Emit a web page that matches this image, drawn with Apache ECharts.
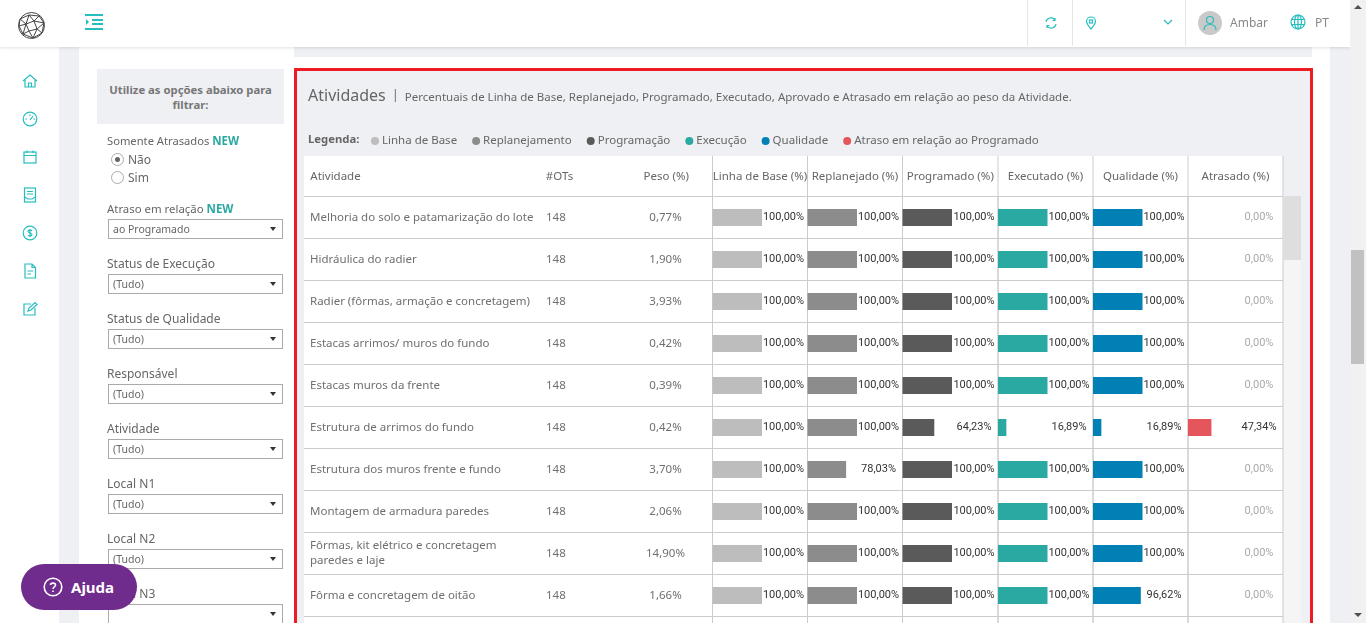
<!DOCTYPE HTML>
<html>
<head>
<meta charset="UTF-8">
<title>Atividades</title>
<script src="https://cdn.jsdelivr.net/npm/echarts@6/dist/echarts.min.js"></script>
<style>
    html,body{ margin:0; padding:0; width:1366px; height:623px; overflow:hidden; background:#fff;
        font-family:"Noto Sans",sans-serif; font-size:12px; color:#666; }
    .box{ position:absolute; }
    .lbl{ position:absolute; left:107px; white-space:nowrap; line-height:14px; color:#666; }
    .lbl b{ color:#2aa9a2; font-size:11.5px; }
    .sel{ position:absolute; left:108px; width:173px; height:18px; border:1px solid #aaa; background:#fff;
        line-height:18px; text-indent:4px; font-size:10.5px; color:#666; }
    .sel:after{ content:""; position:absolute; right:6px; top:7px; border:3.5px solid transparent; border-top:4px solid #333; border-bottom:0; }
    .radio{ position:absolute; left:111px; width:11px; height:11px; border:1px solid #aaa; border-radius:50%; background:#fff; }
    svg{ position:absolute; fill:none; stroke:#26bdbf; stroke-width:1.2; }
    #main{ position:absolute; left:0; top:0; width:1366px; height:623px; }
</style>
</head>
<body>
<!-- page behind the table -->
<div class="box" style="left:59px;top:47px;width:20px;height:576px;background:#eff0f4"></div>
<div class="box" style="left:294px;top:47px;width:1018px;height:10px;background:#eff0f4"></div>
<div class="box" style="left:1330px;top:47px;width:20px;height:576px;background:#eff0f4"></div>
<div class="box" style="left:294px;top:68px;width:1013px;height:560px;border:3px solid #ed1c24;background:#eff0f4"></div>
<div class="box" style="left:304px;top:156px;width:979px;height:467px;background:#fff"></div>
<div class="box" style="left:1284px;top:196px;width:17px;height:427px;background:#f5f5f5"></div>
<div class="box" style="left:1284px;top:196px;width:17px;height:64px;background:#dedede"></div>

<div id="main"></div>

<!-- top bar -->
<div class="box" style="left:0;top:0;width:1350px;height:47px;background:#fff;box-shadow:0 1px 3px rgba(0,0,0,.12)"></div>
<svg style="left:17px;top:11px;stroke:#444;stroke-width:1" width="29" height="29" viewBox="0 0 29 29">
    <circle cx="14.5" cy="14.5" r="13"/><path d="M3 8L12 4L22 5L27 12L25 22L16 27L6 23L2 15ZM12 4L9 13L3 8M9 13L2 15M9 13L6 23M9 13L17 10L12 4M17 10L22 5M17 10L27 12M17 10L20 18L27 12M20 18L25 22M20 18L16 27M20 18L12 20L9 13M12 20L6 23M12 20L16 27"/>
</svg>
<svg style="left:85px;top:14px;stroke-width:2" width="18" height="16" viewBox="0 0 18 16">
    <path d="M0 1H18M7 6H18M7 10H18M0 15H18"/><path d="M1 5L4 8L1 11Z" fill="#26bdbf" stroke="none"/>
</svg>
<div class="box" style="left:1027px;top:0;width:1px;height:46px;background:#e6e6e6"></div>
<div class="box" style="left:1072px;top:0;width:1px;height:46px;background:#e6e6e6"></div>
<div class="box" style="left:1185px;top:0;width:1px;height:46px;background:#e6e6e6"></div>
<svg style="left:1045px;top:17px" width="12" height="12" viewBox="0 0 12 12"><path d="M1 5A5 5 0 0 1 10 3M11 7A5 5 0 0 1 2 9M10 1V3.5H7.500M2 11V8.500H4.500"/></svg>
<svg style="left:1085px;top:16px" width="12" height="14" viewBox="0 0 12 14"><path d="M6 13C3 9 1.500 7.500 1.500 5.500A4.500 4.500 0 0 1 10.500 5.500C10.500 7.500 9 9 6 13Z"/><rect x="4.500" y="4" width="3" height="3"/></svg>
<svg style="left:1163px;top:19px" width="10" height="7" viewBox="0 0 10 7"><path d="M1 1L5 5L9 1"/></svg>
<div class="box" style="left:1198px;top:11px;width:24px;height:24px;border-radius:50%;background:#c9c9c9"></div>
<svg style="left:1202px;top:15px" width="16" height="16" viewBox="0 0 16 16"><circle cx="8" cy="5" r="3.500"/><path d="M2 15C2 11 5 9.500 8 9.500S14 11 14 15"/></svg>
<div class="lbl" style="left:1230px;top:16px;color:#888">Ambar</div>
<svg style="left:1290px;top:14px" width="16" height="16" viewBox="0 0 16 16"><circle cx="8" cy="8" r="7"/><ellipse cx="8" cy="8" rx="3.500" ry="7"/><path d="M8 1V15M1.500 5.500H14.500M1.500 10.500H14.500"/></svg>
<div class="lbl" style="left:1315px;top:16px;color:#888">PT</div>
<div class="box" style="left:1350px;top:0;width:16px;height:623px;background:#f1f1f1"></div>
<div class="box" style="left:1351px;top:250px;width:13px;height:114px;background:#c1c1c1"></div>
<div class="box" style="left:1354px;top:5px;border:4px solid transparent;border-bottom:4px solid #505050;border-top:0"></div>
<div class="box" style="left:1354px;top:613px;border:4px solid transparent;border-top:4px solid #505050;border-bottom:0"></div>

<!-- side icons -->
<svg style="left:22px;top:73px" width="16" height="16" viewBox="0 0 16 16"><path d="M1 8L8 2L15 8M3 7V14H13V7M6.500 14V10H9.500V14"/></svg>
<svg style="left:22px;top:111px" width="16" height="16" viewBox="0 0 16 16"><circle cx="8" cy="8" r="6.800"/><path d="M8 9L11 5M3.500 8H5M11.500 8H13M8 3.500V5"/></svg>
<svg style="left:22px;top:149px" width="16" height="16" viewBox="0 0 16 16"><rect x="2" y="3" width="12" height="11"/><path d="M2 6.500H14M5 1.500V4M11 1.500V4"/></svg>
<svg style="left:23px;top:187px" width="14" height="16" viewBox="0 0 14 16"><rect x="1.500" y="1" width="11" height="14"/><path d="M4 4.500H10M4 7H10M1.500 10L5 12H9L12.500 10"/></svg>
<svg style="left:22px;top:225px" width="16" height="16" viewBox="0 0 16 16"><circle cx="8" cy="8" r="6.800"/><path d="M10 5.800C9 4.800 6 5 6 6.500S10 8 10 9.600S7 11.300 6 10.300M8 4V12"/></svg>
<svg style="left:23px;top:263px" width="14" height="16" viewBox="0 0 14 16"><path d="M2 1H9L12.500 4.500V15H2ZM9 1V4.500H12.500M4.500 8H10M4.500 11H8"/></svg>
<svg style="left:22px;top:301px" width="16" height="16" viewBox="0 0 16 16"><path d="M9 3H2V14H13V7M6 10L7 7L13 1.500L15 3.500L9 9Z"/></svg>

<!-- filter column -->
<div class="box" style="left:97px;top:69px;width:187px;height:55px;background:#eff0f4;font-weight:bold;font-size:11.3px;color:#777;text-align:center;line-height:15px"><div style="padding-top:13px">Utilize as opções abaixo para<br>filtrar:</div></div>
<div class="lbl" style="top:134px;font-size:11.2px">Somente Atrasados <b>NEW</b></div>
<div class="radio" style="top:153px"></div><div class="box" style="left:115px;top:157px;width:5px;height:5px;border-radius:50%;background:#666"></div>
<div class="lbl" style="left:128px;top:153px">Não</div>
<div class="radio" style="top:171px"></div>
<div class="lbl" style="left:128px;top:171px">Sim</div>
<div class="lbl" style="top:202px;font-size:11.4px">Atraso em relação <b>NEW</b></div>
<div class="sel" style="top:219px">ao Programado</div>
<div class="lbl" style="top:257px">Status de Execução</div>
<div class="sel" style="top:274px">(Tudo)</div>
<div class="lbl" style="top:312px">Status de Qualidade</div>
<div class="sel" style="top:329px">(Tudo)</div>
<div class="lbl" style="top:367px">Responsável</div>
<div class="sel" style="top:384px">(Tudo)</div>
<div class="lbl" style="top:422px">Atividade</div>
<div class="sel" style="top:439px">(Tudo)</div>
<div class="lbl" style="top:477px">Local N1</div>
<div class="sel" style="top:494px">(Tudo)</div>
<div class="lbl" style="top:532px">Local N2</div>
<div class="sel" style="top:549px">(Tudo)</div>
<div class="lbl" style="top:587px">Local N3</div>
<div class="sel" style="top:604px"></div>

<div class="box" style="left:21px;top:564px;width:116px;height:46px;border-radius:23px;background:#702c8c;color:#fff;font-weight:bold;font-size:15px;line-height:46px;text-indent:50px">Ajuda</div>
<svg style="left:43px;top:577px;stroke:#fff;stroke-width:1.6" width="20" height="20" viewBox="0 0 20 20"><circle cx="10" cy="10" r="8.800"/><path d="M7.500 8C7.500 5.500 12.500 5.500 12.500 8C12.500 10 10 10 10 12M10 13.500V15"/></svg>

<script type="text/javascript">
    var activities = [
        'Melhoria do solo e patamarização do lote',
        'Hidráulica do radier',
        'Radier (fôrmas, armação e concretagem)',
        'Estacas arrimos/ muros do fundo',
        'Estacas muros da frente',
        'Estrutura de arrimos do fundo',
        'Estrutura dos muros frente e fundo',
        'Montagem de armadura paredes',
        'Fôrmas, kit elétrico e concretagem\nparedes e laje',
        'Fôrma e concretagem de oitão',
        ''
    ];
    var ots = [148, 148, 148, 148, 148, 148, 148, 148, 148, 148, null];
    var peso = [0.77, 1.90, 3.93, 0.42, 0.39, 0.42, 3.70, 2.06, 14.90, 1.66, null];
    var linhaBase = [100, 100, 100, 100, 100, 100, 100, 100, 100, 100, null];
    var replanejado = [100, 100, 100, 100, 100, 100, 78.03, 100, 100, 100, null];
    var programado = [100, 100, 100, 100, 100, 64.23, 100, 100, 100, 100, null];
    var executado = [100, 100, 100, 100, 100, 16.89, 100, 100, 100, 100, null];
    var qualidade = [100, 100, 100, 100, 100, 16.89, 100, 100, 100, 96.62, null];
    var atrasado = [0, 0, 0, 0, 0, 47.34, 0, 0, 0, 0, null];

    var FONT = '"Noto Sans", sans-serif';
    var NUM_FONT = 'Roboto, sans-serif';
    var ROW = 42, TOP = 196.5, BODY = ROW * activities.length;
    var LINE = '#cccccc';

    function pct(v) {
        return v == null ? '' : v.toFixed(2).replace('.', ',') + '%';
    }

    var grids = [], xAxes = [], yAxes = [], series = [];

    // one grid per table column, all sharing the same rows
    function addColumn(left, width, title, titlePad, bordered, label, xMax) {
        var i = grids.length;
        grids.push({
            left: left, top: TOP, width: width, height: BODY, outerBoundsMode: 'none',
            show: bordered, borderColor: LINE, borderWidth: 1, backgroundColor: 'transparent'
        });
        xAxes.push({
            gridIndex: i, type: 'value', position: 'top', min: 0, max: xMax,
            name: title, nameLocation: 'middle', nameGap: 14,
            nameTextStyle: { color: '#666', fontSize: 11.5, fontFamily: FONT, padding: titlePad },
            axisLine: { show: false }, axisTick: { show: false }, axisLabel: { show: false }, splitLine: { show: false }
        });
        yAxes.push(Object.assign({
            gridIndex: i, type: 'category', inverse: true, data: activities,
            axisLine: { show: false }, axisTick: { show: false },
            splitLine: { show: true, interval: 0, lineStyle: { color: LINE, width: 1 } }
        }, label));
        return i;
    }

    addColumn(304, 237, 'Atividade', [0, 174, 0, 0], false, {
        position: 'left',
        axisLabel: { inside: true, interval: 0, margin: 6, align: 'left', color: '#6f6f6f', fontSize: 11.5, fontFamily: FONT, lineHeight: 15, padding: [3, 0, 0, 0] }
    }, 100);
    addColumn(541, 79, '#OTs', [0, 42, 0, 0], false, {
        position: 'left',
        axisLabel: { inside: true, interval: 0, margin: 5, align: 'left', color: '#6f6f6f', fontSize: 11.5, fontFamily: FONT, padding: [3, 0, 0, 0],
            formatter: function (v, i) { return ots[i] == null ? '' : String(ots[i]); } }
    }, 100);
    addColumn(620, 92.5, 'Peso (%)', [0, 0, 0, 0], false, {
        position: 'right',
        axisLabel: { inside: true, interval: 0, margin: 47, align: 'center', color: '#6f6f6f', fontSize: 11.5, fontFamily: FONT, padding: [3, 0, 0, 0],
            formatter: function (v, i) { return pct(peso[i]); } }
    }, 100);

    var columns = [
        { left: 712.5, width: 95, title: 'Linha de Base (%)', name: 'Linha de Base', values: linhaBase, color: '#bdbdbd' },
        { left: 807.5, width: 95, title: 'Replanejado (%)', name: 'Replanejamento', values: replanejado, color: '#8c8c8c' },
        { left: 902.5, width: 95.5, title: 'Programado (%)', name: 'Programação', values: programado, color: '#5a5a5a' },
        { left: 998, width: 95, title: 'Executado (%)', name: 'Execução', values: executado, color: '#2aa9a2' },
        { left: 1093, width: 95, title: 'Qualidade (%)', name: 'Qualidade', values: qualidade, color: '#0080b5' },
        { left: 1188, width: 95, title: 'Atrasado (%)', name: 'Atraso em relação ao Programado', values: atrasado, color: '#e5555c' }
    ];

    columns.forEach(function (c) {
        var idx = addColumn(c.left, c.width, c.title, [0, 0, 0, 0], true, {
            position: 'right',
            axisLabel: {
                inside: true, interval: 0, margin: 24, align: 'center', fontSize: 11, fontFamily: NUM_FONT, padding: [4, 0, 0, 0],
                color: function (v, i) { return c.values[i] === 0 ? '#aaaaaa' : '#333333'; },
                formatter: function (v, i) { return pct(c.values[i]); }
            }
        }, 100 * c.width / 49.5);
        series.push({
            name: c.name, type: 'bar', xAxisIndex: idx, yAxisIndex: idx, data: c.values,
            barWidth: 17, itemStyle: { color: c.color }, silent: true
        });
    });

    // vertical rules of the header row
    var headerRules = [712.5, 807.5, 902.5, 998, 1093, 1188, 1283].map(function (x) {
        return { type: 'line', shape: { x1: x, y1: 156, x2: x, y2: TOP }, style: { stroke: LINE, lineWidth: 1 } };
    });

    var myChart = echarts.init(document.getElementById('main'));
    myChart.setOption({
        animation: false,
        backgroundColor: 'transparent',
        title: {
            left: 308, top: 88, padding: 0,
            text: '{a|Atividades}{b|  |  }{c|Percentuais de Linha de Base, Replanejado, Programado, Executado, Aprovado e Atrasado em relação ao peso da Atividade.}',
            textStyle: {
                fontFamily: FONT, fontWeight: 'normal',
                rich: {
                    a: { fontSize: 16, color: '#666', fontFamily: FONT, fontWeight: 'normal' },
                    b: { fontSize: 12, color: '#666', fontFamily: FONT, fontWeight: 'normal' },
                    c: { fontSize: 11.5, color: '#666', fontFamily: FONT, fontWeight: 'normal', padding: [3, 0, 0, 0] }
                }
            }
        },
        legend: {
            left: 371, top: 135, icon: 'circle', itemWidth: 8, itemHeight: 8, itemGap: 15, padding: 0, selectedMode: false,
            textStyle: { color: '#666', fontSize: 11.5, fontFamily: FONT, padding: [0, 0, 0, -2] },
            data: columns.map(function (c) { return c.name; })
        },
        graphic: headerRules.concat([{
            type: 'text', left: 308, top: 134,
            style: { text: 'Legenda:', fill: '#666', font: 'bold 11.3px ' + FONT }
        }]),
        grid: grids, xAxis: xAxes, yAxis: yAxes, series: series
    });
</script>
</body>
</html>
